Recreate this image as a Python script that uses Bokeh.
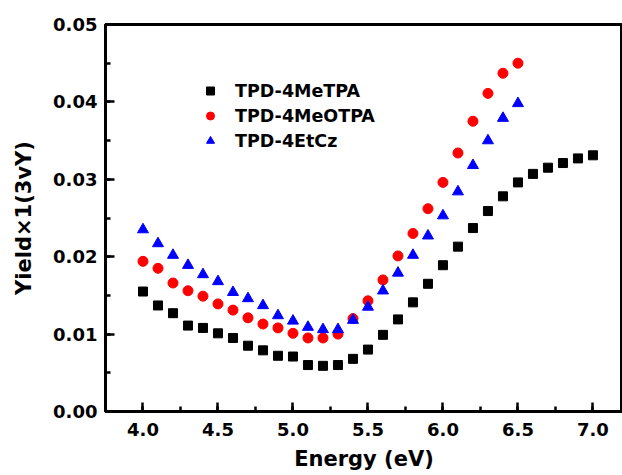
from bokeh.plotting import figure
from bokeh.models import (SingleIntervalTicker, NumeralTickFormatter,
                          Range1d, Legend, LegendItem)
from bokeh.embed import file_html
from bokeh.resources import INLINE

energy_a = [4.0, 4.1, 4.2, 4.3, 4.4, 4.5, 4.6, 4.7, 4.8, 4.9, 5.0, 5.1, 5.2, 5.3, 5.4,
            5.5, 5.6, 5.7, 5.8, 5.9, 6.0, 6.1, 6.2, 6.3, 6.4, 6.5, 6.6, 6.7, 6.8, 6.9, 7.0]
yield_metpa = [0.0155, 0.0137, 0.0127, 0.0111, 0.0108, 0.0101, 0.0095, 0.0085, 0.0079, 0.0072,
               0.0071, 0.0060, 0.0059, 0.0060, 0.0068, 0.0080, 0.0099, 0.0119, 0.0141, 0.0165,
               0.0189, 0.0213, 0.0237, 0.0259, 0.0278, 0.0296, 0.0307, 0.0315, 0.0321, 0.0327,
               0.0331]

energy_b = [4.0, 4.1, 4.2, 4.3, 4.4, 4.5, 4.6, 4.7, 4.8, 4.9, 5.0, 5.1, 5.2, 5.3, 5.4,
            5.5, 5.6, 5.7, 5.8, 5.9, 6.0, 6.1, 6.2, 6.3, 6.4, 6.5]
yield_meotpa = [0.0194, 0.0185, 0.0166, 0.0156, 0.0149, 0.0139, 0.0131, 0.0121, 0.0113, 0.0108,
                0.0101, 0.0095, 0.0095, 0.0100, 0.0120, 0.0143, 0.0170, 0.0201, 0.0230, 0.0262,
                0.0296, 0.0334, 0.0375, 0.0411, 0.0437, 0.0450]
yield_etcz = [0.0235, 0.0217, 0.0202, 0.0189, 0.0177, 0.0168, 0.0154, 0.0146, 0.0137, 0.0124,
              0.0117, 0.0109, 0.0106, 0.0106, 0.0118, 0.0135, 0.0156, 0.0179, 0.0202, 0.0227,
              0.0253, 0.0284, 0.0318, 0.0350, 0.0379, 0.0398]

series_names = ["TPD-4MeTPA", "TPD-4MeOTPA", "TPD-4EtCz"]
x_label = "Energy (eV)"
y_label = "Yield\u00d71(3vY)"

FONT = "DejaVu Sans"

p = figure(width=622, height=475, output_backend="svg", toolbar_location=None,
           x_range=Range1d(3.75, 7.197), y_range=Range1d(0.0, 0.05),
           x_axis_label=x_label, y_axis_label=y_label,
           min_border_left=105, min_border_right=0, min_border_top=24, min_border_bottom=64)
# frame outline gives the top border (right side falls at the page edge)
p.outline_line_color = "black"
p.outline_line_width = 3
p.xgrid.visible = False
p.ygrid.visible = False


def style_axis(ax, fmt):
    ax.axis_line_width = 3
    ax.axis_line_color = "black"
    ax.major_tick_in = 9
    ax.major_tick_out = 0
    ax.minor_tick_in = 5
    ax.minor_tick_out = 0
    ax.major_tick_line_width = 2.5
    ax.minor_tick_line_width = 2.5
    ax.major_tick_line_color = "black"
    ax.minor_tick_line_color = "black"
    ax.major_label_text_font = FONT
    ax.major_label_text_font_style = "bold"
    ax.major_label_text_font_size = "18px"
    ax.major_label_text_color = "black"
    ax.axis_label_text_font = FONT
    ax.axis_label_text_font_style = "bold"
    ax.axis_label_text_font_size = "21px"
    ax.axis_label_text_color = "black"
    ax.formatter = NumeralTickFormatter(format=fmt)


xaxis = p.xaxis[0]
xaxis.ticker = SingleIntervalTicker(interval=0.5, num_minor_ticks=2)
style_axis(xaxis, "0.0")
xaxis.major_label_standoff = 11
xaxis.axis_label_standoff = 8

yaxis = p.yaxis[0]
yaxis.ticker = SingleIntervalTicker(interval=0.01, num_minor_ticks=2)
style_axis(yaxis, "0.00")
yaxis.major_label_standoff = 8
yaxis.axis_label_standoff = 14

r1 = p.scatter(energy_a, yield_metpa, marker="square", size=9, fill_color="black", line_color="black")
r2 = p.scatter(energy_b, yield_meotpa, marker="circle", size=10, fill_color="red", line_color="red")
r3 = p.scatter(energy_b, yield_etcz, marker="triangle", size=11, fill_color="blue", line_color="blue")

legend = Legend(items=[LegendItem(label=series_names[0], renderers=[r1]),
                       LegendItem(label=series_names[1], renderers=[r2]),
                       LegendItem(label=series_names[2], renderers=[r3])],
                location=(95, 258))
legend.border_line_color = None
legend.background_fill_alpha = 0
legend.padding = 0
legend.margin = 0
legend.spacing = 0
legend.glyph_width = 20
legend.glyph_height = 25
legend.label_height = 25
legend.label_standoff = 15
legend.label_text_font = FONT
legend.label_text_font_style = "bold"
legend.label_text_font_size = "17.5px"
legend.label_text_color = "black"
legend.label_text_baseline = "middle"
p.add_layout(legend, "center")

open("out.html", "w").write(file_html(p, INLINE))
